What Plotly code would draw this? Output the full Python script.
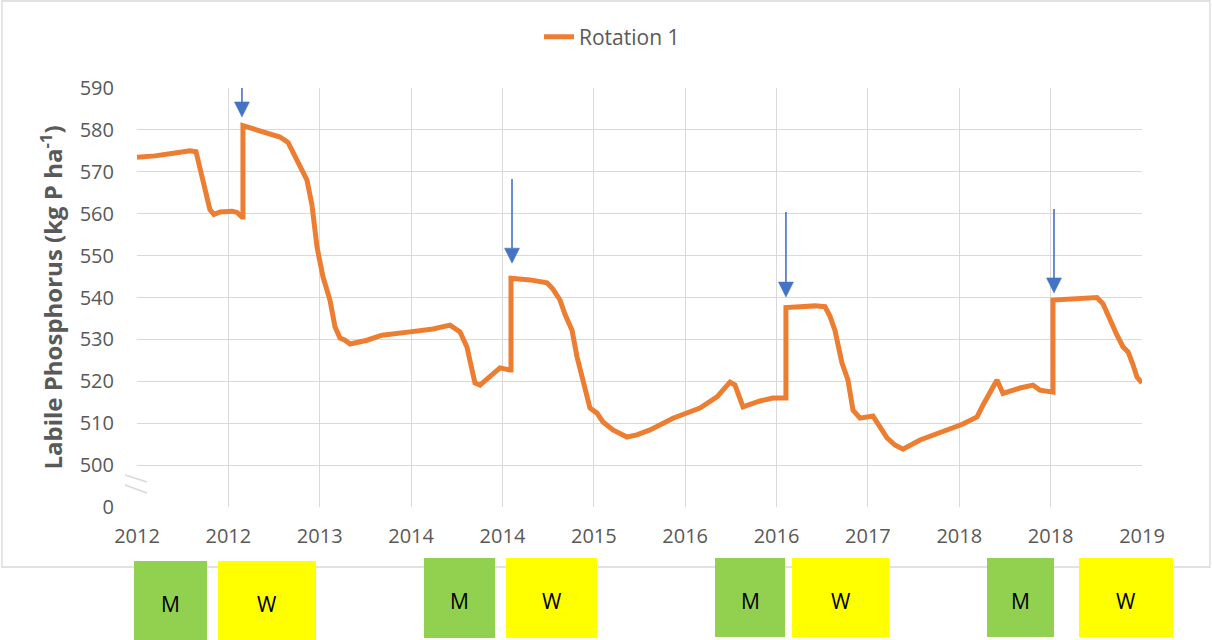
import plotly.graph_objects as go

# ---------------- data ----------------
years = [2012.000, 2012.125, 2012.265, 2012.369, 2012.411, 2012.439, 2012.474, 2012.508, 2012.536,
         2012.578, 2012.662, 2012.697, 2012.731, 2012.738, 2012.738, 2012.857, 2012.996, 2013.052,
         2013.087, 2013.135, 2013.184, 2013.219, 2013.254, 2013.295, 2013.344, 2013.379, 2013.414,
         2013.449, 2013.484, 2013.602, 2013.706, 2013.902, 2014.062, 2014.180, 2014.250, 2014.298,
         2014.333, 2014.354, 2014.389, 2014.459, 2014.528, 2014.598, 2014.605, 2014.605, 2014.737,
         2014.856, 2014.897, 2014.946, 2014.981, 2015.030, 2015.065, 2015.106, 2015.155, 2015.204,
         2015.246, 2015.315, 2015.413, 2015.482, 2015.573, 2015.733, 2015.921, 2016.040, 2016.130,
         2016.165, 2016.221, 2016.339, 2016.430, 2016.520, 2016.520, 2016.618, 2016.722, 2016.792,
         2016.827, 2016.861, 2016.910, 2016.952, 2016.987, 2017.036, 2017.126, 2017.175, 2017.224,
         2017.279, 2017.335, 2017.454, 2017.642, 2017.753, 2017.851, 2017.892, 2017.990, 2018.032,
         2018.150, 2018.240, 2018.289, 2018.380, 2018.380, 2018.533, 2018.686, 2018.728, 2018.777,
         2018.826, 2018.868, 2018.903, 2018.937, 2018.965, 2019.000]
labile_p = [573.5, 573.8, 574.5, 575.0, 574.8, 571.0, 566.0, 561.0, 559.8,
            560.4, 560.6, 560.3, 559.2, 559.2, 581.0, 579.8, 578.3, 577.0,
            574.7, 571.5, 568.0, 562.0, 552.0, 545.0, 539.4, 533.0, 530.3,
            529.8, 528.9, 529.8, 531.0, 531.8, 532.5, 533.4, 531.8, 528.2,
            523.4, 519.6, 519.1, 521.0, 523.2, 522.7, 522.7, 544.6, 544.2,
            543.5, 542.0, 539.4, 536.0, 532.2, 525.8, 520.3, 513.6, 512.4,
            510.3, 508.4, 506.7, 507.2, 508.4, 511.2, 513.6, 516.3, 519.8,
            519.1, 513.9, 515.3, 516.0, 516.0, 537.6, 537.8, 538.0, 537.8,
            535.5, 532.2, 524.4, 520.3, 513.1, 511.2, 511.7, 509.1, 506.5,
            504.8, 503.8, 506.0, 508.4, 509.8, 511.5, 514.3, 520.3, 517.1,
            518.4, 519.1, 517.9, 517.4, 539.4, 539.8, 540.0, 538.5, 534.6,
            531.0, 528.2, 527.0, 524.0, 521.0, 519.6]
series_name = "Rotation 1"

x_tick_labels = ["2012", "2012", "2013", "2014", "2014", "2015", "2016", "2016", "2017", "2018", "2018", "2019"]
y_tick_values = [490, 500, 510, 520, 530, 540, 550, 560, 570, 580, 590]
y_tick_labels = ["0", "500", "510", "520", "530", "540", "550", "560", "570", "580", "590"]

# fertiliser application arrows
arrow_x = [2012.731, 2014.612, 2016.520, 2018.387]
arrow_top = [590.0, 568.3, 560.4, 561.1]
arrow_tip = [583.1, 548.2, 540.1, 541.1]

# crop blocks below the axis
crop_labels = ["M", "W", "M", "W", "M", "W", "M", "W"]
crop_x0 = [134, 218, 424, 506, 715, 792, 987, 1079]
crop_x1 = [207, 316, 495, 597, 785, 889, 1054, 1173]
crop_y0 = [561, 561, 558, 558, 558, 558, 558, 558]
crop_y1 = [640, 640, 638, 638, 637, 637, 637, 637]

# ---------------- figure ----------------
W, H = 1212, 640
L, R, T, B = 137, 1142, 88, 507
x_start, x_end = 2012.0, 2019.0
tickvals = [x_start + k * (x_end - x_start) / 11 for k in range(12)]

ORANGE = "#ED7D31"
GRID = "#D9D9D9"
TXT = "#595959"
BLUE = "#4472C4"
FONT = "Open Sans"

def px2paper_x(px):
    return (px - L) / (R - L)

def px2paper_y(py):
    return (B - py) / (B - T)

fig = go.Figure()
fig.add_trace(go.Scatter(x=years, y=labile_p, mode="lines", name=series_name,
                         line=dict(color=ORANGE, width=5), showlegend=True))

shapes = []
annotations = []

# outer chart border
shapes.append(dict(type="rect", xref="paper", yref="paper",
                   x0=px2paper_x(2), x1=px2paper_x(1210), y0=px2paper_y(567), y1=px2paper_y(1),
                   line=dict(color=GRID, width=1.3), fillcolor="rgba(0,0,0,0)", layer="below"))

# axis break marks
for (ya, yb) in [(475, 482), (485, 493)]:
    shapes.append(dict(type="line", xref="paper", yref="paper",
                       x0=px2paper_x(125), x1=px2paper_x(147), y0=px2paper_y(ya), y1=px2paper_y(yb),
                       line=dict(color=GRID, width=1.5)))

# arrows
ppx = (x_end - x_start) / (R - L)
ppy = (590 - 500) / (465 - 88)
for xa, yt, yp in zip(arrow_x, arrow_top, arrow_tip):
    head_len = 15 * ppy
    half_w = 7.5 * ppx
    shapes.append(dict(type="line", xref="x", yref="y", x0=xa, x1=xa, y0=yt, y1=yp + head_len,
                       line=dict(color=BLUE, width=1.6)))
    shapes.append(dict(type="path", xref="x", yref="y",
                       path=f"M {xa - half_w},{yp + head_len} L {xa + half_w},{yp + head_len} L {xa},{yp} Z",
                       fillcolor=BLUE, line=dict(color=BLUE, width=0.5)))

# crop blocks
for lab, x0, x1, y0, y1 in zip(crop_labels, crop_x0, crop_x1, crop_y0, crop_y1):
    col = "#92D050" if lab == "M" else "#FFFF00"
    shapes.append(dict(type="rect", xref="paper", yref="paper",
                       x0=px2paper_x(x0), x1=px2paper_x(x1), y0=px2paper_y(y1), y1=px2paper_y(y0),
                       fillcolor=col, line=dict(width=0)))
    annotations.append(dict(xref="paper", yref="paper", x=px2paper_x((x0 + x1) / 2),
                            y=px2paper_y((y0 + y1) / 2 + 3), text=lab, showarrow=False,
                            font=dict(family=FONT, size=21, color="#000000"),
                            xanchor="center", yanchor="middle"))

fig.update_layout(
    width=W, height=H,
    margin=dict(l=L, r=W - R, t=T, b=H - B, pad=0),
    paper_bgcolor="white", plot_bgcolor="white",
    font=dict(family=FONT, color=TXT),
    showlegend=True,
    legend=dict(orientation="h", x=px2paper_x(612), xanchor="center", y=px2paper_y(37), yanchor="middle",
                font=dict(family=FONT, size=21, color=TXT), bgcolor="rgba(0,0,0,0)"),
    shapes=shapes, annotations=annotations,
)

fig.update_xaxes(range=[x_start, x_end], tickvals=tickvals, ticktext=x_tick_labels,
                 showgrid=True, gridcolor=GRID, gridwidth=1.3, zeroline=False,
                 showline=False, ticks="", tickfont=dict(family=FONT, size=20, color=TXT),
                 ticklabelstandoff=15)
fig.update_yaxes(range=[490, 590], tickvals=y_tick_values, ticktext=y_tick_labels,
                 showgrid=True, gridcolor=GRID, gridwidth=1.3, zeroline=False,
                 showline=False, ticks="", tickfont=dict(family=FONT, size=20, color=TXT),
                 ticklabelstandoff=22,
                 title=dict(text="<b>Labile Phosphorus (kg P ha<sup>-1</sup>)</b>",
                            font=dict(family=FONT, size=24, color=TXT), standoff=10))

fig.write_html("out.html", config={"displayModeBar": False},
               post_script="document.body.style.margin='0px';document.body.style.overflow='hidden';")
